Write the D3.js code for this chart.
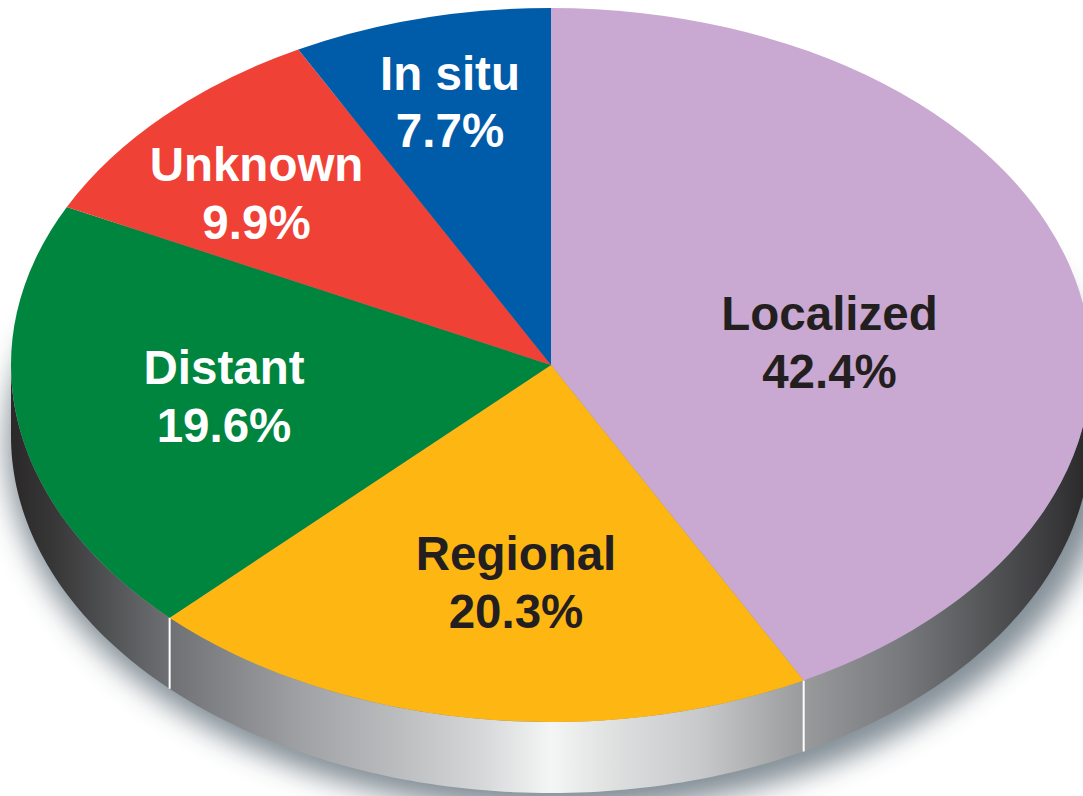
<!DOCTYPE html>
<html><head><meta charset="utf-8">
<script src="https://d3js.org/d3.v7.min.js"></script>
<style>html,body{margin:0;padding:0;background:#fff;overflow:hidden}svg{display:block}
text{font-family:"Liberation Sans",Arial,sans-serif;font-weight:700}</style></head>
<body><svg id="c" width="1083" height="796"></svg>
<script>
const categories = ["Localized","Regional","Distant","Unknown","In situ"];
const percentages = [42.4,20.3,19.6,9.9,7.7];
// slice shares as actually drawn in the picture (measured from the slice boundaries)
const drawnShares = [42.25,20.23,19.82,9.95,7.75];
const sliceColors = ["#c9a8d1","#feb712","#00853e","#ef4136","#005ba9"];
const labelColors = ["#231f20","#231f20","#fff","#fff","#fff"];
const labelCenterX = [829.5,516,224,256.5,450];
const labelFirstBaseline = [330,570,384,181,89.5];

const W=1083,H=796,cx=551,cy=365,rx=540,ry=357,depth=71,lineGap=57.5;
const svg=d3.select("#c");
const defs=svg.append("defs");
const grad=defs.append("linearGradient").attr("id","wall").attr("gradientUnits","userSpaceOnUse")
  .attr("x1",cx-rx).attr("x2",cx+rx).attr("y1",0).attr("y2",0);
[[0,"#2a2829"],[.04,"#383738"],[.082,"#4c4d4f"],[.147,"#6f7073"],[.268,"#a0a1a4"],[.36,"#bcbdbf"],[.434,"#d5d6d7"],[.5,"#f4f5f5"],[.565,"#dcdddd"],[.638,"#c8c9cb"],[.737,"#98999b"],[.825,"#78797c"],[.915,"#4f5052"],[.96,"#3c3c3e"],[1,"#292728"]]
 .forEach(s=>grad.append("stop").attr("offset",s[0]).attr("stop-color",s[1]));
defs.append("filter").attr("id","blur").attr("filterUnits","userSpaceOnUse")
  .attr("x",-100).attr("y",-100).attr("width",W+200).attr("height",H+300)
  .append("feGaussianBlur").attr("stdDeviation",14);

const toX=a=>cx+rx*Math.sin(a), toY=a=>cy-ry*Math.cos(a);

// drop shadow
svg.append("ellipse").attr("cx",cx+8).attr("cy",cy+depth+8).attr("rx",rx+12).attr("ry",ry+10)
  .attr("fill","#75818a").attr("opacity",.9).attr("filter","url(#blur)");
// side wall
const wallAngles=d3.range(90,270.01,1).map(d=>d*Math.PI/180);
svg.append("path").attr("d",d3.area().x(toX).y0(toY).y1(a=>toY(a)+depth)(wallAngles)).attr("fill","url(#wall)");

const pie=d3.pie().sort(null)(drawnShares);
// seams in the wall at visible slice boundaries
svg.selectAll("line.seam").data(pie.filter(d=>d.endAngle>Math.PI/2&&d.endAngle<3*Math.PI/2)).join("line")
  .attr("class","seam").attr("x1",d=>toX(d.endAngle)).attr("x2",d=>toX(d.endAngle))
  .attr("y1",d=>toY(d.endAngle)).attr("y2",d=>toY(d.endAngle)+depth)
  .attr("stroke","#fff").attr("stroke-width",2);
// top face
const arc=d3.arc().innerRadius(0).outerRadius(rx);
svg.append("g").attr("transform",`translate(${cx},${cy}) scale(1,${ry/rx})`)
  .selectAll("path").data(pie).join("path").attr("d",arc).attr("fill",(d,i)=>sliceColors[i]);
// labels
const g=svg.append("g").attr("font-size",47.5).attr("text-anchor","middle");
categories.forEach((c,i)=>{
  g.append("text").attr("x",labelCenterX[i]).attr("y",labelFirstBaseline[i]).attr("fill",labelColors[i]).text(c);
  g.append("text").attr("x",labelCenterX[i]).attr("y",labelFirstBaseline[i]+lineGap).attr("fill",labelColors[i]).text(percentages[i].toFixed(1)+"%");
});
</script></body></html>
